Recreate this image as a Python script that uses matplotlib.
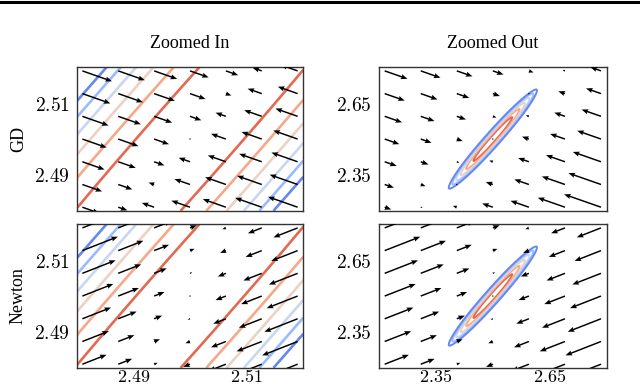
import numpy as np
import matplotlib
matplotlib.use("Agg")
import matplotlib.pyplot as plt
from matplotlib.lines import Line2D

# ---- data ----
center = [2.5, 2.5]
panels = ["Zoomed In", "Zoomed Out"]
half_range = {"Zoomed In": 0.02, "Zoomed Out": 0.3}
ticks = {"Zoomed In": [2.49, 2.51], "Zoomed Out": [2.35, 2.65]}
tick_labels = {"Zoomed In": ["2.49", "2.51"], "Zoomed Out": ["2.35", "2.65"]}
row_labels = ["GD", "Newton"]

valley_angle_deg = 61.0          # long-axis direction of the level sets (data coords)
inner_halfwidth = 0.00955        # horizontal half-width of the innermost contour
outer_halflength = 0.237         # half-length of the outermost contour along the valley
exp_across = 1.8                 # growth exponent across the valley
exp_along = 2.2                  # growth exponent along the valley
contour_levels = [1, 2, 3, 4, 5, 6]
level_cmap_pos = [6/7, 5/7, 4/7, 3/7, 2/7, 1/7]   # coolwarm positions, inner -> outer
contour_lw = {"Zoomed In": 1.9, "Zoomed Out": 1.4}

n_arrows = 7
arrow_inset = 0.025
gd_len_px = {"Zoomed In": 28.0, "Zoomed Out": 24.5}
gd_exponent = {"Zoomed In": 0.45, "Zoomed Out": 1.0}
gd_gain_x = {"Zoomed In": 0.0, "Zoomed Out": 0.25}
newton_dir = [1.0, 0.62]
newton_beta = 0.22
newton_len_px = {"Zoomed In": 35.0, "Zoomed Out": 35.0}

th = np.deg2rad(valley_angle_deg)
v_dir = np.array([np.cos(th), np.sin(th)])
n_dir = np.array([np.sin(th), -np.cos(th)])
a_coef = contour_levels[0] / (inner_halfwidth * np.sin(th)) ** exp_across
b_coef = contour_levels[-1] / outer_halflength ** exp_along

plt.rcParams["mathtext.fontset"] = "cm"
plt.rcParams["axes.linewidth"] = 1.0

W, H = 640, 387
fig = plt.figure(figsize=(W / 100, H / 100), dpi=100)

col_left = [76.7, 379.0]
col_width = [226.6, 227.7]
row_top = [67.3, 224.3]
row_h = 143.5

for r, method in enumerate(row_labels):
    for c, zoom in enumerate(panels):
        rect = [col_left[c] / W, 1 - (row_top[r] + row_h) / H, col_width[c] / W, row_h / H]
        ax = fig.add_axes(rect)
        hr = half_range[zoom]
        lo_x, hi_x = center[0] - hr, center[0] + hr
        lo_y, hi_y = center[1] - hr, center[1] + hr
        sx = col_width[c] / (2 * hr)
        sy = row_h / (2 * hr)

        gx_ = np.linspace(lo_x, hi_x, 800)
        gy_ = np.linspace(lo_y, hi_y, 800)
        X, Y = np.meshgrid(gx_, gy_)
        dx = X - center[0]
        dy = Y - center[1]
        tn = n_dir[0] * dx + n_dir[1] * dy
        tv = v_dir[0] * dx + v_dir[1] * dy
        Z = a_coef * np.abs(tn) ** exp_across + b_coef * np.abs(tv) ** exp_along
        ax.contour(X, Y, Z, levels=contour_levels,
                   colors=[plt.cm.coolwarm(p) for p in level_cmap_pos],
                   linewidths=contour_lw[zoom], zorder=1)

        span = 2 * hr
        qx = np.linspace(lo_x + arrow_inset * span, hi_x - arrow_inset * span, n_arrows)
        qy = np.linspace(lo_y + arrow_inset * span, hi_y - arrow_inset * span, n_arrows)
        QX, QY = np.meshgrid(qx, qy)
        ddx = QX - center[0]
        ddy = QY - center[1]
        if method == "GD":
            t = n_dir[0] * ddx + n_dir[1] * ddy
            dirx = -np.sign(t) * n_dir[0]
            diry = -np.sign(t) * n_dir[1]
            length = (gd_len_px[zoom] * (np.abs(t) / hr) ** gd_exponent[zoom]
                      * (1 + gd_gain_x[zoom] * ddx / hr))
        else:
            m = ddx - newton_beta * ddy
            dirx = -np.sign(m) * newton_dir[0]
            diry = -np.sign(m) * newton_dir[1]
            length = newton_len_px[zoom] * np.abs(m) / hr
        px = dirx * sx
        py = diry * sy
        nrm = np.hypot(px, py)
        nrm[nrm == 0] = 1
        U = px / nrm * length / sx
        V = py / nrm * length / sy
        ax.quiver(QX, QY, U, V, angles="xy", scale_units="xy", scale=1,
                  width=0.0065, headwidth=3.5, headlength=4.5, headaxislength=4.0,
                  color="black", zorder=3)

        ax.set_xlim(lo_x, hi_x)
        ax.set_ylim(lo_y, hi_y)
        ax.set_yticks(ticks[zoom])
        ax.set_yticklabels(["$" + t_ + "$" for t_ in tick_labels[zoom]], fontsize=14)
        if r == 1:
            ax.set_xticks(ticks[zoom])
            ax.set_xticklabels(["$" + t_ + "$" for t_ in tick_labels[zoom]], fontsize=13)
        else:
            ax.set_xticks([])
        ax.tick_params(axis="y", length=0, pad=5)
        ax.tick_params(axis="x", length=0, pad=0.5)
        for s in ax.spines.values():
            s.set_color("#333333")
        if r == 0:
            ax.set_title(zoom, fontsize=13, family="Liberation Serif", pad=14)
        if c == 0:
            ax.set_ylabel(method, fontsize=13, family="Liberation Serif", labelpad=5)

fig.add_artist(Line2D([0, 1], [1 - 1.5 / H, 1 - 1.5 / H], color="black", lw=2.2,
                      transform=fig.transFigure))

fig.savefig("out.png", dpi=100)
